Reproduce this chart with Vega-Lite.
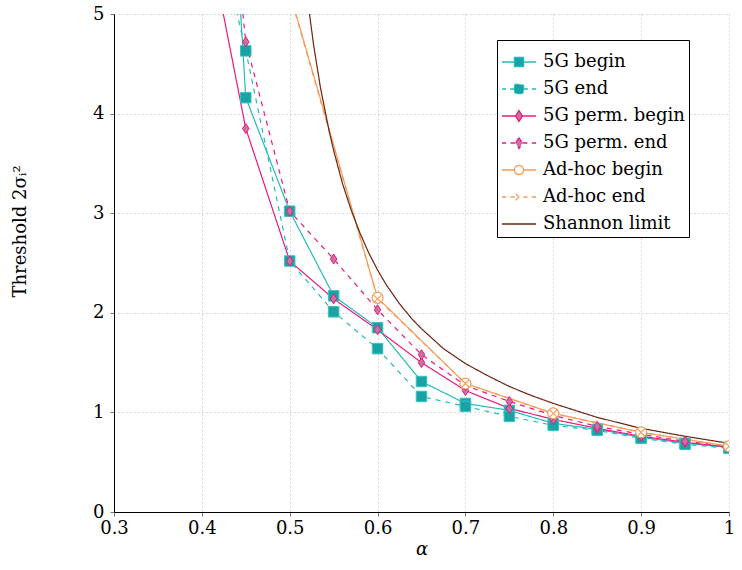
{
  "$schema": "https://vega.github.io/schema/vega-lite/v6.json",
  "width": 615,
  "height": 498,
  "autosize": "none",
  "padding": {"left": 114, "top": 14, "right": 13, "bottom": 58},
  "background": "white",
  "config": {
    "view": {"stroke": null},
    "font": "DejaVu Serif",
    "axis": {
      "labelFont": "DejaVu Serif",
      "titleFont": "DejaVu Serif",
      "labelFontSize": 18,
      "titleFontSize": 18,
      "titleFontWeight": "normal",
      "labelColor": "black",
      "titleColor": "black",
      "domainColor": "black",
      "domainWidth": 1,
      "tickColor": "#777",
      "tickSize": 4,
      "gridColor": "#b5b5b5",
      "gridDash": [1, 3],
      "gridWidth": 1
    },
    "legend": {
      "labelFont": "DejaVu Serif",
      "labelFontSize": 18,
      "labelColor": "black"
    }
  },
  "data": {
    "values": [
      {"series": "5G begin", "a": 0.4, "t": 11.4},
      {"series": "5G begin", "a": 0.45, "t": 4.16},
      {"series": "5G begin", "a": 0.5, "t": 3.02},
      {"series": "5G begin", "a": 0.55, "t": 2.17},
      {"series": "5G begin", "a": 0.6, "t": 1.85},
      {"series": "5G begin", "a": 0.65, "t": 1.31},
      {"series": "5G begin", "a": 0.7, "t": 1.09},
      {"series": "5G begin", "a": 0.75, "t": 1.02},
      {"series": "5G begin", "a": 0.8, "t": 0.89},
      {"series": "5G begin", "a": 0.85, "t": 0.83},
      {"series": "5G begin", "a": 0.9, "t": 0.75},
      {"series": "5G begin", "a": 0.95, "t": 0.69},
      {"series": "5G begin", "a": 1.0, "t": 0.65},
      {"series": "5G end", "a": 0.4, "t": 6.5},
      {"series": "5G end", "a": 0.45, "t": 4.63},
      {"series": "5G end", "a": 0.5, "t": 2.52},
      {"series": "5G end", "a": 0.55, "t": 2.01},
      {"series": "5G end", "a": 0.6, "t": 1.64},
      {"series": "5G end", "a": 0.65, "t": 1.16},
      {"series": "5G end", "a": 0.7, "t": 1.06},
      {"series": "5G end", "a": 0.75, "t": 0.96},
      {"series": "5G end", "a": 0.8, "t": 0.87},
      {"series": "5G end", "a": 0.85, "t": 0.82},
      {"series": "5G end", "a": 0.9, "t": 0.74},
      {"series": "5G end", "a": 0.95, "t": 0.68},
      {"series": "5G end", "a": 1.0, "t": 0.64},
      {"series": "5G perm. begin", "a": 0.4, "t": 6.1},
      {"series": "5G perm. begin", "a": 0.45, "t": 3.85},
      {"series": "5G perm. begin", "a": 0.5, "t": 2.52},
      {"series": "5G perm. begin", "a": 0.55, "t": 2.14},
      {"series": "5G perm. begin", "a": 0.6, "t": 1.83},
      {"series": "5G perm. begin", "a": 0.65, "t": 1.5},
      {"series": "5G perm. begin", "a": 0.7, "t": 1.22},
      {"series": "5G perm. begin", "a": 0.75, "t": 1.04},
      {"series": "5G perm. begin", "a": 0.8, "t": 0.93},
      {"series": "5G perm. begin", "a": 0.85, "t": 0.84},
      {"series": "5G perm. begin", "a": 0.9, "t": 0.76},
      {"series": "5G perm. begin", "a": 0.95, "t": 0.7},
      {"series": "5G perm. begin", "a": 1.0, "t": 0.65},
      {"series": "5G perm. end", "a": 0.4, "t": 9.0},
      {"series": "5G perm. end", "a": 0.45, "t": 4.72},
      {"series": "5G perm. end", "a": 0.5, "t": 3.02},
      {"series": "5G perm. end", "a": 0.55, "t": 2.54},
      {"series": "5G perm. end", "a": 0.6, "t": 2.03},
      {"series": "5G perm. end", "a": 0.65, "t": 1.58},
      {"series": "5G perm. end", "a": 0.7, "t": 1.27},
      {"series": "5G perm. end", "a": 0.75, "t": 1.11},
      {"series": "5G perm. end", "a": 0.8, "t": 0.97},
      {"series": "5G perm. end", "a": 0.85, "t": 0.86},
      {"series": "5G perm. end", "a": 0.9, "t": 0.78},
      {"series": "5G perm. end", "a": 0.95, "t": 0.71},
      {"series": "5G perm. end", "a": 1.0, "t": 0.66},
      {"series": "Ad-hoc begin", "a": 0.5, "t": 5.22},
      {"series": "Ad-hoc begin", "a": 0.6, "t": 2.15},
      {"series": "Ad-hoc begin", "a": 0.7, "t": 1.29},
      {"series": "Ad-hoc begin", "a": 0.8, "t": 0.99},
      {"series": "Ad-hoc begin", "a": 0.9, "t": 0.8},
      {"series": "Ad-hoc begin", "a": 1.0, "t": 0.66},
      {"series": "Ad-hoc end", "a": 0.5, "t": 5.2},
      {"series": "Ad-hoc end", "a": 0.6, "t": 2.14},
      {"series": "Ad-hoc end", "a": 0.7, "t": 1.29},
      {"series": "Ad-hoc end", "a": 0.8, "t": 0.99},
      {"series": "Ad-hoc end", "a": 0.9, "t": 0.8},
      {"series": "Ad-hoc end", "a": 1.0, "t": 0.66},
      {"series": "Shannon limit", "a": 0.515, "t": 5.56},
      {"series": "Shannon limit", "a": 0.52, "t": 5.17},
      {"series": "Shannon limit", "a": 0.527, "t": 4.7},
      {"series": "Shannon limit", "a": 0.535, "t": 4.26},
      {"series": "Shannon limit", "a": 0.545, "t": 3.82},
      {"series": "Shannon limit", "a": 0.55, "t": 3.63},
      {"series": "Shannon limit", "a": 0.56, "t": 3.3},
      {"series": "Shannon limit", "a": 0.57, "t": 3.03},
      {"series": "Shannon limit", "a": 0.58, "t": 2.8},
      {"series": "Shannon limit", "a": 0.59, "t": 2.6},
      {"series": "Shannon limit", "a": 0.6, "t": 2.43},
      {"series": "Shannon limit", "a": 0.61, "t": 2.28},
      {"series": "Shannon limit", "a": 0.625, "t": 2.09},
      {"series": "Shannon limit", "a": 0.64, "t": 1.93},
      {"series": "Shannon limit", "a": 0.65, "t": 1.84},
      {"series": "Shannon limit", "a": 0.675, "t": 1.64},
      {"series": "Shannon limit", "a": 0.7, "t": 1.49},
      {"series": "Shannon limit", "a": 0.725, "t": 1.37},
      {"series": "Shannon limit", "a": 0.75, "t": 1.26},
      {"series": "Shannon limit", "a": 0.775, "t": 1.17},
      {"series": "Shannon limit", "a": 0.8, "t": 1.09},
      {"series": "Shannon limit", "a": 0.85, "t": 0.95},
      {"series": "Shannon limit", "a": 0.9, "t": 0.84},
      {"series": "Shannon limit", "a": 0.95, "t": 0.76},
      {"series": "Shannon limit", "a": 1.0, "t": 0.69}
    ]
  },
  "encoding": {
    "x": {
      "field": "a", "type": "quantitative",
      "scale": {"domain": [0.3, 1.0], "nice": false, "zero": false},
      "axis": {
        "title": "α", "titleFontStyle": "italic", "titlePadding": 3,
        "titleFont": "DejaVu Serif", "labelFont": "DejaVu Serif",
        "values": [0.3, 0.4, 0.5, 0.6, 0.7, 0.8, 0.9, 1.0],
        "labelExpr": "datum.value >= 0.999 ? '1' : format(datum.value, '.1f')",
        "labelPadding": 3, "labelFlush": false
      }
    },
    "y": {
      "field": "t", "type": "quantitative",
      "scale": {"domain": [0, 5], "nice": false},
      "axis": {
        "title": "Threshold 2σᵢ²",
        "titleFont": "DejaVu Serif", "labelFont": "DejaVu Serif",
        "titleX": -89, "titleY": 283, "titleAlign": "left", "titleBaseline": "alphabetic", "titleAngle": 270,
        "values": [0, 1, 2, 3, 4, 5], "format": "d",
        "labelPadding": 6, "labelFlush": false
      }
    }
  },
  "layer": [
    {
      "mark": {"type": "line", "strokeWidth": 1.2, "clip": true},
      "encoding": {
        "color": {
          "field": "series", "type": "nominal",
          "scale": {
            "domain": ["5G begin", "5G end", "5G perm. begin", "5G perm. end", "Ad-hoc begin", "Ad-hoc end", "Shannon limit"],
            "range": ["#22bcbc", "#22bcbc", "#ea1a80", "#ea1a80", "#f79a55", "#f79a55", "#6e2410"]
          },
          "legend": {
            "title": null,
            "orient": "none",
            "legendX": 383,
            "legendY": 26,
            "padding": 4,
            "strokeColor": "black",
            "fillColor": "white",
            "labelFont": "DejaVu Serif",
            "labelFontSize": 18,
            "symbolSize": 1156,
            "symbolStrokeWidth": 1.3,
            "symbolDash": [1, 0],
            "labelOffset": 6,
            "rowPadding": -0.5,
            "encode": {
              "symbols": {
                "update": {
                  "shape": {"signal": "datum.value === '5G begin' ? 'M-1,0H-0.27M0.27,0H1M-0.27,-0.27H0.27V0.27H-0.27Z' : datum.value === '5G end' ? 'M-1,0H-0.76M-0.52,0H-0.27M0.27,0H0.52M0.76,0H1M-0.27,-0.27H0.27V0.27H-0.27Z' : datum.value === '5G perm. begin' ? 'M-1,0H-0.2M0.2,0H1M0,-0.32L0.2,0L0,0.32L-0.2,0Z' : datum.value === '5G perm. end' ? 'M-1,0H-0.76M-0.5,0H-0.2M0.2,0H0.5M0.76,0H1M0,-0.32L0.2,0L0,0.32L-0.2,0Z' : datum.value === 'Ad-hoc begin' ? 'M-1,0H-0.27M0.27,0H1M-0.27,0A0.27,0.27 0 1,1 0.27,0A0.27,0.27 0 1,1 -0.27,0Z' : datum.value === 'Ad-hoc end' ? 'M-1,0H-0.76M-0.5,0H-0.26M0.26,0H0.5M0.76,0H1M-0.2,-0.2L0.2,0.2M-0.2,0.2L0.2,-0.2' : 'M-1,0H1'"},
                  "strokeDash": {"value": [1, 0]},
                  "fill": {"signal": "indexof(datum.value, '5G perm') >= 0 ? '#c9729f' : indexof(datum.value, '5G') >= 0 ? '#1aa3a3' : datum.value === 'Ad-hoc begin' ? 'white' : 'transparent'"},
                  "opacity": {"value": 1}
                }
              }
            }
          }
        },
        "strokeDash": {
          "field": "series", "type": "nominal",
          "scale": {
            "domain": ["5G begin", "5G end", "5G perm. begin", "5G perm. end", "Ad-hoc begin", "Ad-hoc end", "Shannon limit"],
            "range": [[1, 0], [5, 5], [1, 0], [5, 5], [1, 0], [5, 5], [1, 0]]
          },
          "legend": null
        }
      }
    },
    {
      "transform": [{"filter": "datum.series === '5G begin' || datum.series === '5G end'"}],
      "mark": {"type": "point", "shape": "square", "filled": true, "size": 110, "fill": "#1aa3a3", "fillOpacity": 1, "stroke": "#35c4c4", "strokeWidth": 1, "clip": true}
    },
    {
      "transform": [{"filter": "datum.series === '5G perm. begin' || datum.series === '5G perm. end'"}],
      "mark": {"type": "point", "shape": "M0,-1L0.65,0L0,1L-0.65,0Z", "filled": true, "size": 100, "fill": "#c9729f", "fillOpacity": 1, "stroke": "#ea1a80", "strokeWidth": 1, "clip": true}
    },
    {
      "transform": [{"filter": "datum.series === 'Ad-hoc begin'"}],
      "mark": {"type": "point", "shape": "circle", "filled": false, "size": 120, "fill": "white", "fillOpacity": 1, "stroke": "#f79a55", "strokeWidth": 1.2, "opacity": 1, "clip": true}
    },
    {
      "transform": [{"filter": "datum.series === 'Ad-hoc end'"}],
      "mark": {"type": "point", "shape": "M-1,-1L1,1M-1,1L1,-1", "filled": false, "size": 50, "stroke": "#f79a55", "strokeWidth": 1.2, "opacity": 1, "clip": true}
    }
  ]
}
